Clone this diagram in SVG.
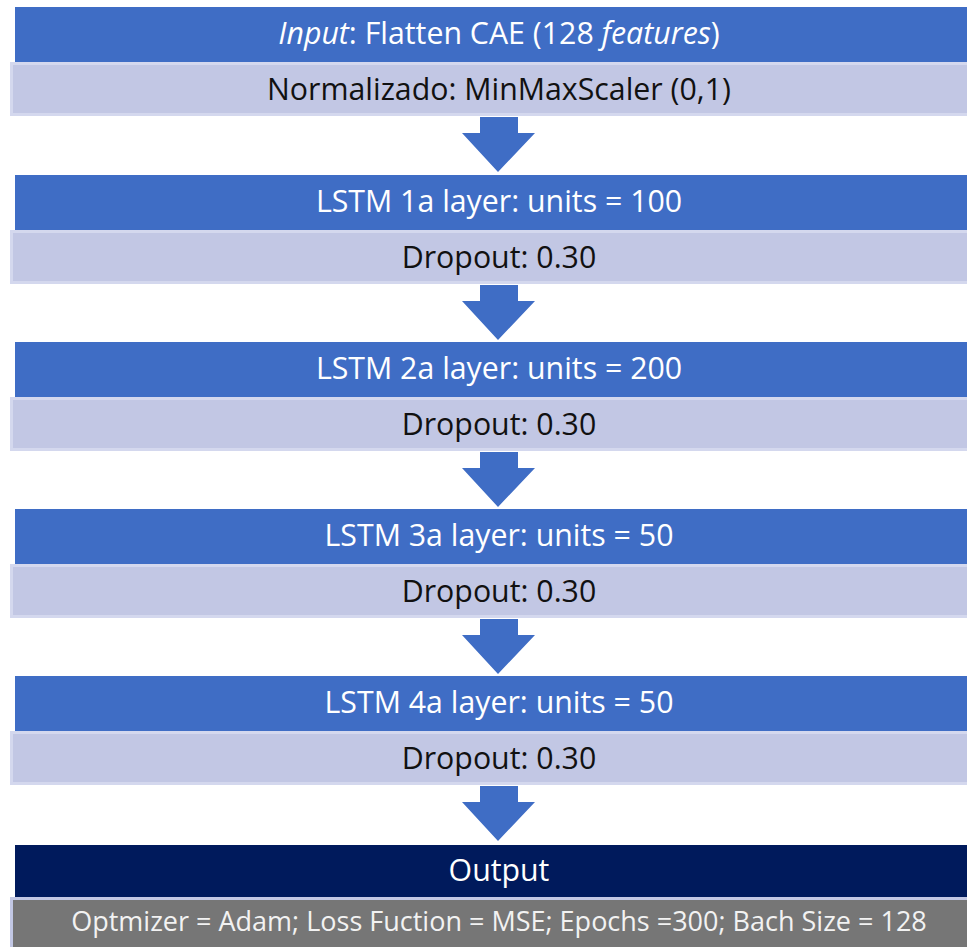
<svg xmlns="http://www.w3.org/2000/svg" width="967" height="947" viewBox="0 0 967 947">
<defs>
<style>
.hd{fill:#3f6dc5}
.sb{fill:#c2c7e4;stroke:#d4d8ee;stroke-width:3}
.arrow{fill:#3f6dc5}
text{font-family:"Open Sans","Liberation Sans",sans-serif;font-size:30.3px;text-anchor:middle}
.w{fill:#ffffff}
.k{fill:#111111}
.g{fill:#f2f2f2;font-size:27px}
</style>
</defs>
<rect width="967" height="947" fill="#ffffff"/>
<g id="input">
<rect class="hd" x="15" y="7" width="952" height="55"/>
<text class="w" x="499" y="44"><tspan font-style="italic">Input</tspan>: Flatten CAE (128 <tspan font-style="italic">features</tspan>)</text>
</g>
<g id="norm">
<rect class="sb" x="11.5" y="63.5" width="960" height="51"/>
<text class="k" x="499" y="100">Normalizado: MinMaxScaler (0,1)</text>
</g>
<g id="lstm1">
<rect class="hd" x="15" y="175" width="952" height="55"/>
<text class="w" x="499" y="212">LSTM 1a layer: units = 100</text>
</g>
<g id="drop1">
<rect class="sb" x="11.5" y="231.5" width="960" height="51"/>
<text class="k" x="499" y="268">Dropout: 0.30</text>
</g>
<g id="lstm2">
<rect class="hd" x="15" y="342" width="952" height="55"/>
<text class="w" x="499" y="379">LSTM 2a layer: units = 200</text>
</g>
<g id="drop2">
<rect class="sb" x="11.5" y="398.5" width="960" height="51"/>
<text class="k" x="499" y="435">Dropout: 0.30</text>
</g>
<g id="lstm3">
<rect class="hd" x="15" y="509" width="952" height="55"/>
<text class="w" x="499" y="546">LSTM 3a layer: units = 50</text>
</g>
<g id="drop3">
<rect class="sb" x="11.5" y="565.5" width="960" height="51"/>
<text class="k" x="499" y="602">Dropout: 0.30</text>
</g>
<g id="lstm4">
<rect class="hd" x="15" y="676" width="952" height="55"/>
<text class="w" x="499" y="713">LSTM 4a layer: units = 50</text>
</g>
<g id="drop4">
<rect class="sb" x="11.5" y="732.5" width="960" height="51"/>
<text class="k" x="499" y="769">Dropout: 0.30</text>
</g>
<g id="output">
<rect x="15" y="845" width="952" height="52" fill="#001a5c"/>
<text class="w" x="499" y="881">Output</text>
</g>
<g id="params">
<rect x="11.5" y="898.5" width="960" height="52" fill="#767676" stroke="#c2c7e4" stroke-width="3"/>
<text class="g" x="499" y="931">Optmizer = Adam; Loss Fuction = MSE; Epochs =300; Bach Size = 128</text>
</g>
<g id="connectors">
<polygon class="arrow" points="480,117 518,117 518,133 535,133 498,172 462,133 480,133"/>
<polygon class="arrow" points="480,285 518,285 518,301 535,301 498,340 462,301 480,301"/>
<polygon class="arrow" points="480,452 518,452 518,468 535,468 498,507 462,468 480,468"/>
<polygon class="arrow" points="480,619 518,619 518,635 535,635 498,674 462,635 480,635"/>
<polygon class="arrow" points="480,786 518,786 518,802 535,802 498,841 462,802 480,802"/>
</g>
</svg>
